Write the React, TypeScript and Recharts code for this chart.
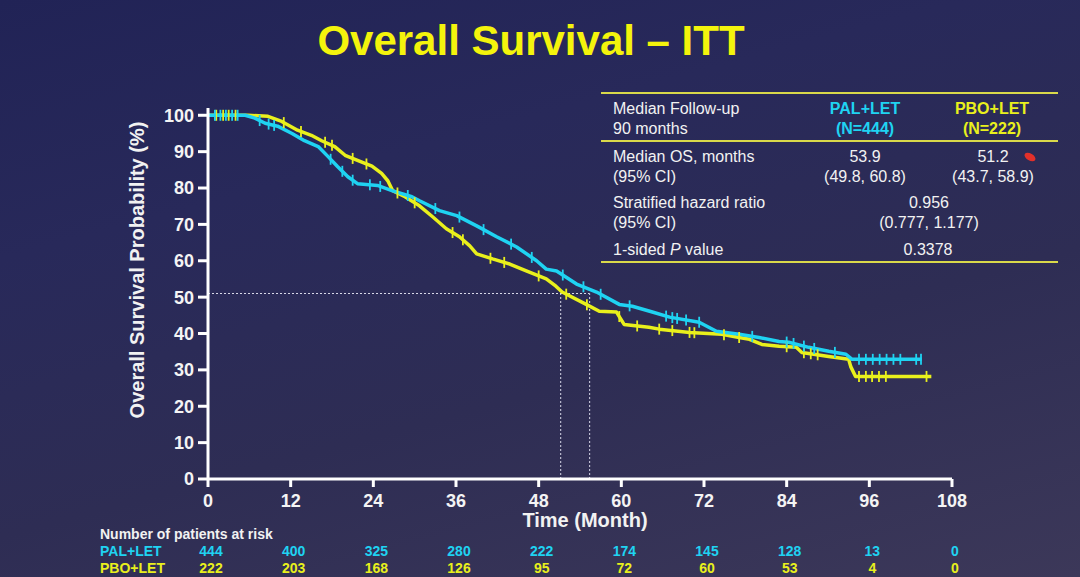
import {
  ComposedChart,
  Line,
  ReferenceLine,
  Scatter,
  XAxis,
  YAxis,
} from "recharts";

// x-axis ticks and number at risk
const months = [0, 12, 24, 36, 48, 60, 72, 84, 96, 108];
const palAtRisk = [444, 400, 325, 280, 222, 174, 145, 128, 13, 0];
const pboAtRisk = [222, 203, 168, 126, 95, 72, 60, 53, 4, 0];
const yTicks = [0, 10, 20, 30, 40, 50, 60, 70, 80, 90, 100];

// PAL+LET Kaplan-Meier curve
const palTimes = [
  0, 5.4, 6.8, 8.3, 10.1, 12.2, 14, 16, 17.4, 18.8, 20.3, 21.7, 24.6, 26.7,
  29.6, 30.7, 33.6, 36.1, 39, 41.9, 44.8, 47.7, 49.1, 50.6, 53.5, 56.4, 59.7,
  61.6, 64.5, 67, 71.3, 73.8, 77.1, 80, 82.9, 84.3, 87.2, 90.1, 92.6, 93.5,
  103.6,
];
const palSurvival = [
  100, 100, 99.2, 97.8, 97, 95, 93, 91.4, 88.7, 85.9, 83.1, 81.2, 80.7, 79.3,
  77.6, 76.5, 73.8, 72.4, 69.6, 66.6, 63.8, 60, 57.7, 57.2, 53.6, 51.4, 48,
  47.5, 45.9, 44.5, 43.1, 40.6, 39.8, 38.9, 37.8, 37.6, 36.2, 35.1, 34.3, 32.9,
  32.9,
];
const palCensored = [
  1, 1.8, 2.6, 3.5, 4.3, 7.5, 8.8, 9.6, 17.8, 19.5, 21, 23.5, 25, 29, 33, 36.5,
  40, 44, 47, 51.5, 54.5, 57, 61.2, 66.5, 67.4, 68.1, 69.4, 71.3, 79, 84, 85,
  86.5, 88, 91, 94.5, 95.5, 96.5, 97.5, 98.5, 99.5, 100.5, 102.8, 103.5,
];

// PBO+LET Kaplan-Meier curve
const pboTimes = [
  0, 5.8, 8.7, 10.7, 13, 15, 16.5, 18.4, 19.9, 21.7, 23.8, 25.2, 26.1, 26.8,
  28.6, 30.7, 32.6, 34.6, 36.5, 38, 39, 41.3, 43.8, 46.2, 49.1, 50.5, 51.4,
  54.9, 56.8, 59.3, 60.4, 64, 65.5, 69.9, 74.6, 77.1, 78.6, 80.4, 82.9, 85.4,
  86.2, 90.1, 93, 93.3, 94, 105,
];
const pboSurvival = [
  100, 100, 99.7, 98.3, 95.9, 94.5, 93, 91.4, 89, 87.6, 86, 84, 82, 79.3, 77.6,
  75.1, 72.1, 68.8, 66.6, 64.1, 61.9, 60.5, 59.1, 57.2, 55, 53, 51.4, 48, 46.1,
  45.9, 42.5, 41.7, 41.2, 40.3, 39.8, 38.9, 38.4, 37, 36.5, 36.2, 34.8, 33.7,
  32.9, 30.9, 28.2, 28.2,
];
const pboCensored = [
  1.2, 2.2, 3, 4, 11, 13.5, 17, 18, 21, 23, 27.5, 30, 35.5, 37, 41, 43, 48, 52,
  55, 59.7, 62.3, 65.5, 67.4, 69.9, 70.6, 74.9, 77.1, 84, 86.5, 87.5, 88.5,
  94.5, 95.5, 96.4, 97.4, 98.4, 104.3,
];

// medians as drawn on the slide
const medianLevel = 51;
const pboMedianX = 51.2;
const palMedianX = 55.4;

const CYAN = "#1fd3f2";
const YELLOW = "#e9f01c";
const FONT = "'Liberation Sans', Arial, sans-serif";

const toCurve = (times: number[], vals: number[]) =>
  times.map((t, i) => ({ t, v: vals[i] }));

// value of a curve at time t (linear between read points)
const valueAt = (times: number[], vals: number[], t: number) => {
  for (let i = 1; i < times.length; i++) {
    if (times[i] >= t) {
      const f = (t - times[i - 1]) / (times[i] - times[i - 1]);
      return vals[i - 1] + f * (vals[i] - vals[i - 1]);
    }
  }
  return vals[vals.length - 1];
};

const palCurve = toCurve(palTimes, palSurvival);
const pboCurve = toCurve(pboTimes, pboSurvival);
const palMarks = palCensored.map((t) => ({ t, v: valueAt(palTimes, palSurvival, t) }));
const pboMarks = pboCensored.map((t) => ({ t, v: valueAt(pboTimes, pboSurvival, t) }));

const censorShape = (color: string) => (props: any) => (
  <line
    x1={props.cx}
    x2={props.cx}
    y1={props.cy - 5.5}
    y2={props.cy + 5.5}
    stroke={color}
    strokeWidth={1.8}
  />
);

function TimeTick(props: any) {
  const { x, y, payload } = props;
  const i = months.indexOf(payload.value);
  return (
    <g fontFamily={FONT} fontWeight="bold" textAnchor="middle">
      <text x={x} y={y + 12} dominantBaseline="central" fill="#f4f4f4" fontSize={18}>
        {payload.value}
      </text>
      <text x={x + 3} y={y + 62} dominantBaseline="central" fill={CYAN} fontSize={14}>
        {palAtRisk[i]}
      </text>
      <text x={x + 3} y={y + 79} dominantBaseline="central" fill={YELLOW} fontSize={14}>
        {pboAtRisk[i]}
      </text>
    </g>
  );
}

function Txt({ x, y, children, anchor = "start", color = "#f2f2f2", size = 16, bold = false }: any) {
  return (
    <text
      x={x}
      y={y}
      textAnchor={anchor}
      dominantBaseline="central"
      fill={color}
      fontSize={size}
      fontWeight={bold ? "bold" : "normal"}
      fontFamily={FONT}
    >
      {children}
    </text>
  );
}

export default function App() {
  return (
    <div
      style={{
        position: "fixed",
        left: 0,
        top: 0,
        width: 1080,
        height: 577,
        overflow: "hidden",
        background:
          "linear-gradient(165deg, #212356 0%, #28295a 30%, #2e2d54 62%, #3c3859 100%)",
      }}
    >
      <ComposedChart
        width={1080}
        height={577}
        margin={{ top: 108, right: 128, bottom: 0, left: 118 }}
      >
        <XAxis
          type="number"
          dataKey="t"
          domain={[0, 108]}
          ticks={months}
          allowDataOverflow
          height={98}
          tickSize={8}
          tickMargin={2}
          axisLine={{ stroke: "#ffffff", strokeWidth: 3 }}
          tickLine={{ stroke: "#ffffff", strokeWidth: 3 }}
          tick={<TimeTick />}
        />
        <YAxis
          type="number"
          dataKey="v"
          domain={[0, 102]}
          ticks={yTicks}
          allowDataOverflow
          width={90}
          tickSize={10}
          tickMargin={4}
          axisLine={{ stroke: "#ffffff", strokeWidth: 3 }}
          tickLine={{ stroke: "#ffffff", strokeWidth: 3 }}
          tick={{ fill: "#f4f4f4", fontSize: 18, fontWeight: "bold", fontFamily: FONT }}
        />
        <ReferenceLine
          segment={[
            { x: 0, y: medianLevel },
            { x: palMedianX, y: medianLevel },
          ]}
          stroke="#d8d8e8"
          strokeDasharray="2 2"
          strokeWidth={1}
        />
        <ReferenceLine
          segment={[
            { x: pboMedianX, y: 0 },
            { x: pboMedianX, y: medianLevel },
          ]}
          stroke="#d8d8e8"
          strokeDasharray="2 2"
          strokeWidth={1}
        />
        <ReferenceLine
          segment={[
            { x: palMedianX, y: 0 },
            { x: palMedianX, y: medianLevel },
          ]}
          stroke="#d8d8e8"
          strokeDasharray="2 2"
          strokeWidth={1}
        />
        <Line
          data={pboCurve}
          dataKey="v"
          type="linear"
          stroke={YELLOW}
          strokeWidth={3.5}
          strokeLinejoin="round"
          dot={false}
          isAnimationActive={false}
        />
        <Line
          data={palCurve}
          dataKey="v"
          type="linear"
          stroke={CYAN}
          strokeWidth={3.5}
          strokeLinejoin="round"
          dot={false}
          isAnimationActive={false}
        />
        <Scatter data={pboMarks} dataKey="v" shape={censorShape(YELLOW)} isAnimationActive={false} />
        <Scatter data={palMarks} dataKey="v" shape={censorShape(CYAN)} isAnimationActive={false} />
      </ComposedChart>

      <svg
        width={1080}
        height={577}
        style={{ position: "absolute", left: 0, top: 0, pointerEvents: "none" }}
      >
        <Txt x={531} y={40} anchor="middle" color="#f4f40c" size={42} bold>
          Overall Survival – ITT
        </Txt>

        <text
          x={137}
          y={270}
          transform="rotate(-90 137 270)"
          textAnchor="middle"
          dominantBaseline="central"
          fill="#f2f2f2"
          fontSize={20}
          fontWeight="bold"
          fontFamily={FONT}
        >
          Overall Survival Probability (%)
        </text>
        <Txt x={585} y={520} anchor="middle" size={20} bold>
          Time (Month)
        </Txt>

        <Txt x={100} y={534} size={14} bold>
          Number of patients at risk
        </Txt>
        <Txt x={100} y={551} size={14} bold color={CYAN}>
          PAL+LET
        </Txt>
        <Txt x={100} y={568} size={14} bold color={YELLOW}>
          PBO+LET
        </Txt>

        {/* results table */}
        <line x1={601} x2={1058} y1={93} y2={93} stroke="#d9d94a" strokeWidth={2} />
        <line x1={601} x2={1058} y1={141} y2={141} stroke="#d9d94a" strokeWidth={2} />
        <line x1={601} x2={1058} y1={262} y2={262} stroke="#d9d94a" strokeWidth={2} />

        <Txt x={613} y={108}>Median Follow-up</Txt>
        <Txt x={613} y={128}>90 months</Txt>
        <Txt x={865} y={108} anchor="middle" color={CYAN} bold>PAL+LET</Txt>
        <Txt x={865} y={128} anchor="middle" color={CYAN} bold>(N=444)</Txt>
        <Txt x={992} y={108} anchor="middle" color={YELLOW} bold>PBO+LET</Txt>
        <Txt x={992} y={128} anchor="middle" color={YELLOW} bold>(N=222)</Txt>

        <Txt x={613} y={156}>Median OS, months</Txt>
        <Txt x={613} y={176}>(95% CI)</Txt>
        <Txt x={865} y={156} anchor="middle">53.9</Txt>
        <Txt x={865} y={176} anchor="middle">(49.8, 60.8)</Txt>
        <Txt x={993} y={156} anchor="middle">51.2</Txt>
        <Txt x={993} y={176} anchor="middle">(43.7, 58.9)</Txt>

        <Txt x={613} y={202}>Stratified hazard ratio</Txt>
        <Txt x={613} y={222}>(95% CI)</Txt>
        <Txt x={929} y={202} anchor="middle">0.956</Txt>
        <Txt x={929} y={222} anchor="middle">(0.777, 1.177)</Txt>

        <text
          x={613}
          y={249}
          dominantBaseline="central"
          fill="#f2f2f2"
          fontSize={16}
          fontFamily={FONT}
        >
          1-sided <tspan fontStyle="italic">P</tspan> value
        </text>
        <Txt x={928} y={249} anchor="middle">0.3378</Txt>

        <ellipse cx={1030} cy={157} rx={6} ry={3.5} fill="#e2302a" transform="rotate(30 1030 157)" />
      </svg>
    </div>
  );
}
